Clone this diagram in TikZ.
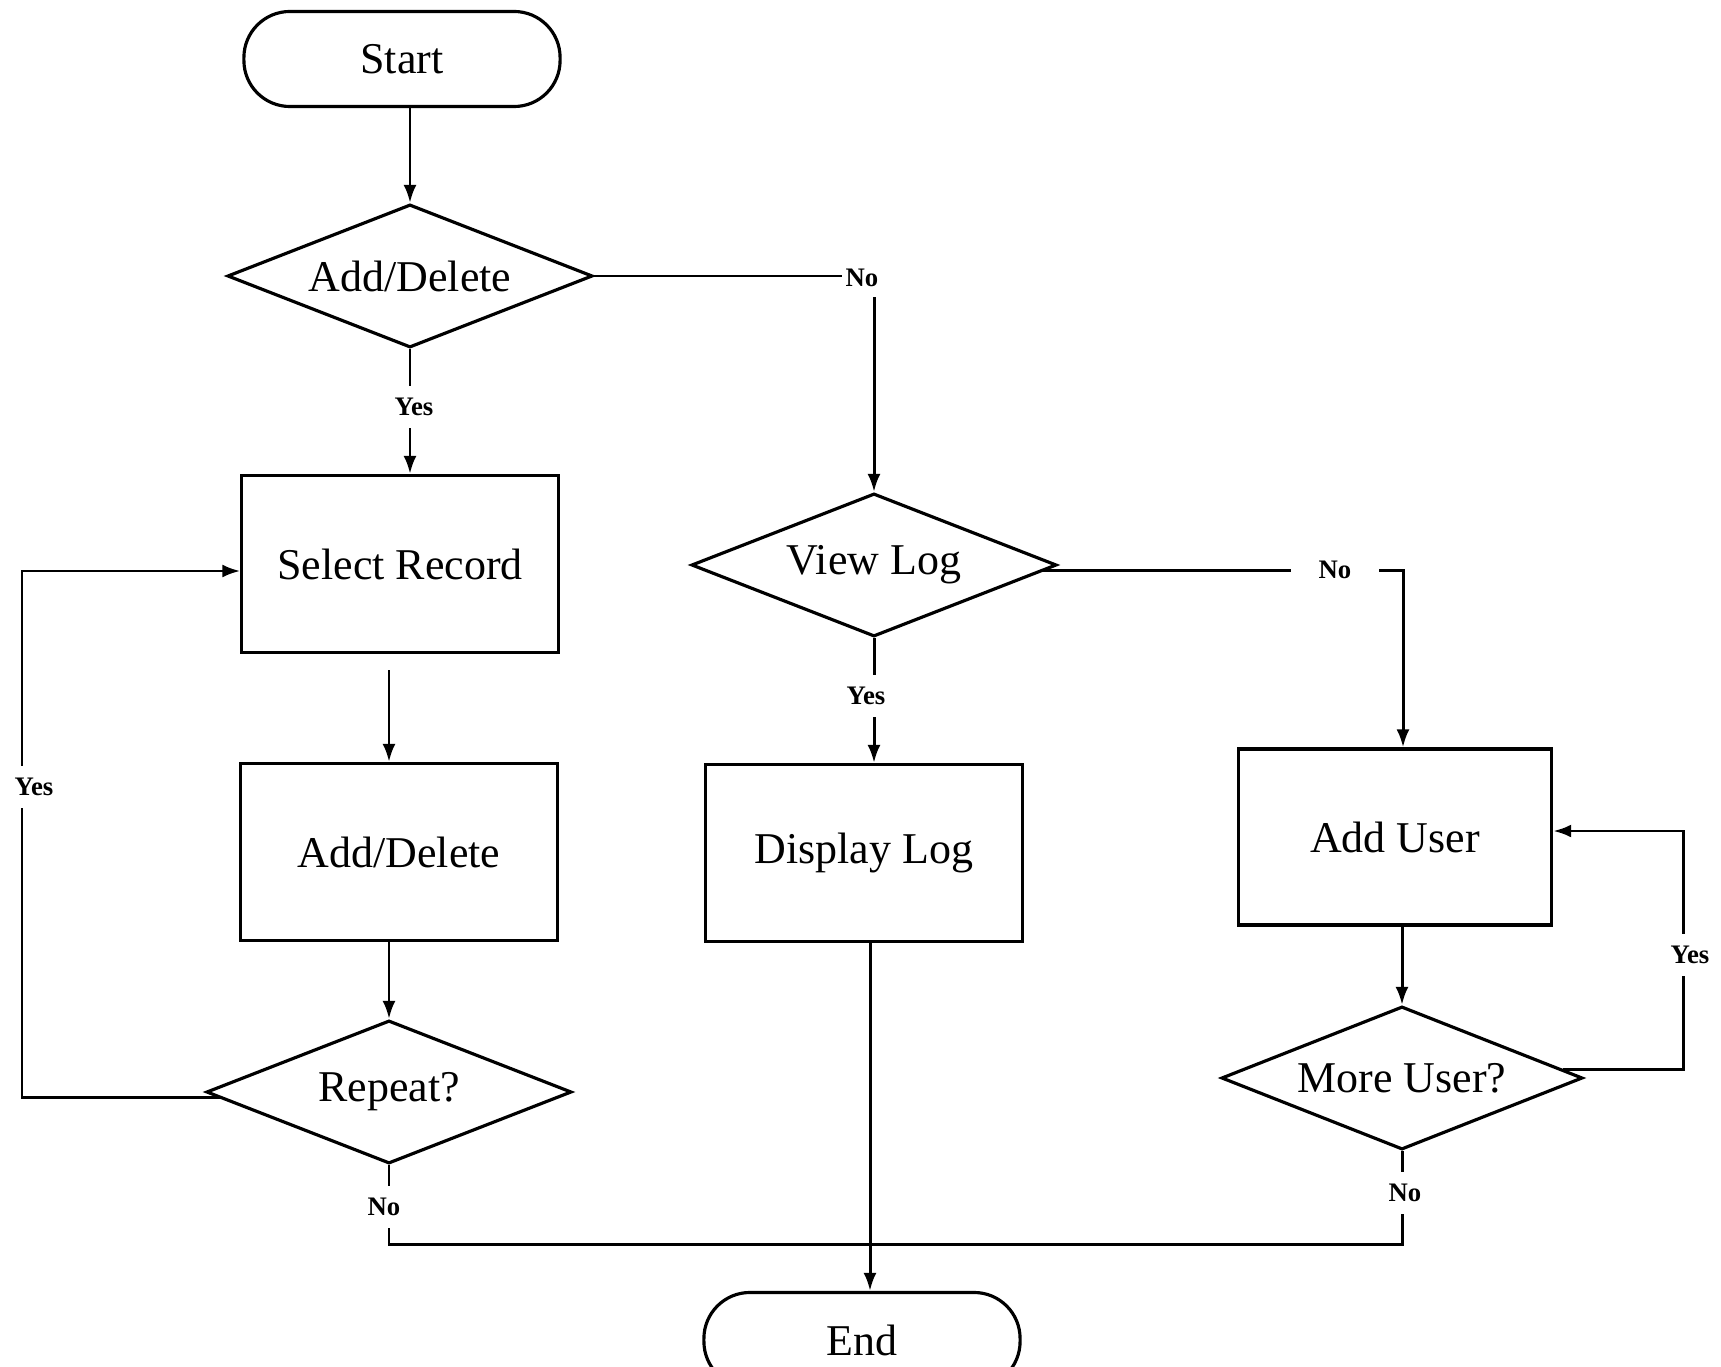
\documentclass[tikz,border=0pt]{standalone}
\usepackage{fontspec}
\setmainfont{Liberation Serif}
\usetikzlibrary{shapes.geometric,arrows.meta}
\begin{document}
\begin{tikzpicture}[x=0.01cm,y=-0.01cm,
  every node/.style={font=\fontsize{12.5}{15}\selectfont},
  term/.style={draw, line width=0.9pt, rounded corners=0.46cm, minimum width=3.16cm, minimum height=0.95cm, inner sep=0},
  proc/.style={draw, line width=0.9pt, minimum width=3.16cm, minimum height=1.77cm, inner sep=0},
  dec/.style={draw, diamond, aspect=2.55, line width=0.9pt, minimum width=3.65cm, minimum height=1.43cm, inner sep=0},
  conn/.style={line width=0.85pt},
  arr/.style={conn, -{Latex[length=1.8mm,width=1.3mm]}},
  lbl/.style={fill=white, font=\bfseries\fontsize{7.6}{9}\selectfont, inner xsep=0.04cm, inner ysep=0.12cm},
]
\useasboundingbox (0,0) rectangle (1721,1367);
\clip (0,0) rectangle (1721,1367);

% nodes
\node[term] (start) at (402,59) {Start};
\node[dec] (d1) at (410,276) {Add/Delete};
\node[proc] (sr) at (400,564) {Select Record};
\node[proc] (ad) at (399,852) {Add/Delete};
\node[dec] (rep) at (389,1092) {Repeat?};
\node[dec] (vl) at (874,565) {View Log};
\node[proc] (dl) at (864,853) {Display Log};
\node[proc, minimum width=3.13cm, minimum height=1.76cm] (au) at (1395,837) {Add User};
\node[dec, minimum width=3.61cm] (mu) at (1402,1078) {More User?};
\node[term] (end) at (862,1340) {End};

% helper coordinates
\coordinate (sr2) at ([yshift=-0.16cm]sr.south);
\coordinate (yl) at (22,571);
\coordinate (yr) at (1683,831);
\coordinate (ex) at (870,0);
\coordinate (by) at (0,1244);
\coordinate (aux) at ([xshift=0.08cm]au.north);

% connectors
\draw[arr] (start.south -| d1.north) -- (d1.north);
\draw[arr] (d1.south) -- (d1.south |- sr.north);
\draw[arr] (d1.east) -| (vl.north);
\draw[arr] (sr2 -| rep.north) -- (ad.north -| rep.north);
\draw[arr] (ad.south -| rep.north) -- (rep.north);
\draw[arr] (rep.182) -| (yl) -- (yl -| sr.west);
\draw[arr] (vl.south) -- (vl.south |- dl.north);
\draw[arr] (vl.-2) -| (aux);
\draw[arr] (au.south -| mu.north) -- (mu.north);
\draw[arr] (mu.3) -| (yr) -- (yr -| au.east);
\draw[arr] (dl.south -| ex) -- (end.north -| ex);
\draw[conn] (rep.south) -- (rep.south |- by) -| (mu.south);

% labels
\node[lbl] (l1) at (414,407) {Yes};
\node[lbl, inner ysep=0.1cm] (l2) at (862,278) {No};
\node[lbl] (l3) at (34,787) {Yes};
\node[lbl] (l4) at (866,696) {Yes};
\node[lbl, inner xsep=0.28cm] (l5) at (1335,570) {No};
\node[lbl] (l6) at (1690,955) {Yes};
\node[lbl] (l7) at (384,1207) {No};
\node[lbl] (l8) at (1405,1193) {No};
\end{tikzpicture}
\end{document}
